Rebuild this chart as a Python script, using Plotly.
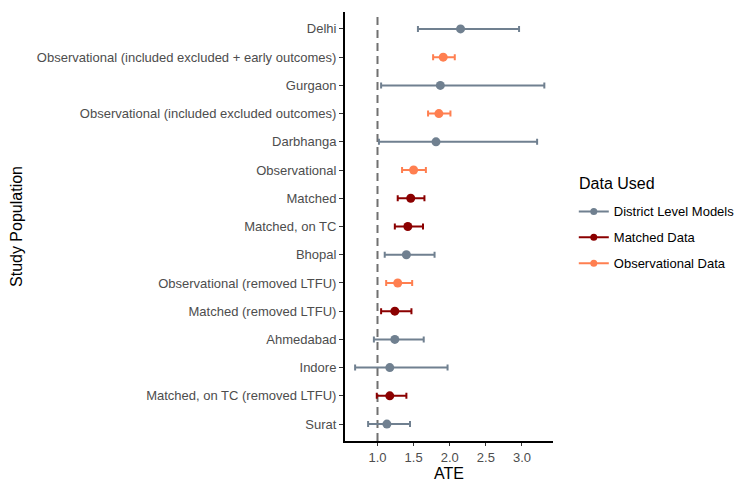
import plotly.graph_objects as go

populations = ["Delhi", "Observational (included excluded + early outcomes)", "Gurgaon",
               "Observational (included excluded outcomes)", "Darbhanga", "Observational",
               "Matched", "Matched, on TC", "Bhopal", "Observational (removed LTFU)",
               "Matched (removed LTFU)", "Ahmedabad", "Indore",
               "Matched, on TC (removed LTFU)", "Surat"]
groups = ["District Level Models", "Observational Data", "District Level Models",
          "Observational Data", "District Level Models", "Observational Data",
          "Matched Data", "Matched Data", "District Level Models", "Observational Data",
          "Matched Data", "District Level Models", "District Level Models",
          "Matched Data", "District Level Models"]
ate = [2.15, 1.91, 1.87, 1.85, 1.81, 1.50, 1.46, 1.42, 1.40, 1.28, 1.24, 1.24, 1.17, 1.17, 1.13]
lower = [1.56, 1.77, 1.05, 1.70, 1.02, 1.34, 1.28, 1.24, 1.10, 1.12, 1.05, 0.95, 0.69, 0.99, 0.87]
upper = [2.96, 2.07, 3.31, 2.01, 3.21, 1.67, 1.65, 1.63, 1.79, 1.48, 1.47, 1.64, 1.97, 1.40, 1.45]

group_order = ["District Level Models", "Matched Data", "Observational Data"]
colors = {"District Level Models": "#708090", "Matched Data": "#8B0000",
          "Observational Data": "#FF7F50"}
x_ticks = [1.0, 1.5, 2.0, 2.5, 3.0]
legend_title = "Data Used"

fig = go.Figure()
fig.add_vline(x=1, line=dict(color="#707070", width=2, dash="8px,5px"), layer="below")

for g in group_order:
    idx = [i for i, gg in enumerate(groups) if gg == g]
    fig.add_trace(go.Scatter(
        x=[ate[i] for i in idx], y=[populations[i] for i in idx], mode="markers",
        marker=dict(color=colors[g], size=9),
        error_x=dict(type="data", symmetric=False,
                     array=[upper[i] - ate[i] for i in idx],
                     arrayminus=[ate[i] - lower[i] for i in idx],
                     color=colors[g], thickness=2, width=3),
        showlegend=False, name=g, legendgroup=g))
    fig.add_trace(go.Scatter(x=[None], y=[None], mode="lines+markers", name=g,
                             legendgroup=g,
                             line=dict(color=colors[g], width=2),
                             marker=dict(color=colors[g], size=7)))

fig.add_annotation(text=legend_title, xref="paper", yref="paper", x=1.115, y=0.601,
                   xanchor="left", yanchor="middle", showarrow=False,
                   font=dict(size=16, color="black"))

# page body adds an 8px offset, so the figure is 8px smaller and margins shifted
fig.update_layout(
    width=736, height=478, plot_bgcolor="white", paper_bgcolor="white",
    margin=dict(l=337, r=191, t=4, b=45, autoexpand=False),
    font=dict(family="Liberation Sans, Arial, sans-serif", size=13, color="#4D4D4D"),
    legend=dict(x=1.1, xanchor="left", y=0.57, yanchor="top",
                font=dict(size=13, color="black"), itemwidth=30, tracegroupgap=6),
    xaxis=dict(range=[0.55, 3.43], tickvals=x_ticks, ticktext=[f"{v:.1f}" for v in x_ticks],
               showgrid=False, zeroline=False, showline=True, linecolor="black", linewidth=2,
               ticks="outside", ticklen=3, tickcolor="#333333", automargin=False,
               title=dict(text="ATE", font=dict(size=16, color="black"), standoff=0)),
    yaxis=dict(type="category", categoryorder="array", categoryarray=populations[::-1],
               range=[-0.6, 14.6], showgrid=False, zeroline=False, showline=True,
               linecolor="black", linewidth=2, ticks="outside", ticklen=4, tickcolor="#333333",
               automargin=False,
               title=dict(text="Study Population", font=dict(size=16, color="black"), standoff=13)),
)

fig.write_html("out.html")
